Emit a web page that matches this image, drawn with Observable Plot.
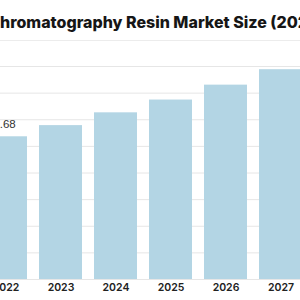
<!DOCTYPE html>
<html>
<head>
<meta charset="utf-8">
<script src="https://cdn.jsdelivr.net/npm/d3@7"></script>
<script src="https://cdn.jsdelivr.net/npm/@observablehq/plot@0.6"></script>
<style>
  html, body { margin: 0; padding: 0; background: #fff; }
  #wrap { position: relative; width: 300px; height: 300px; overflow: hidden; background: #fff; }
  #title {
    position: absolute; top: 14px; white-space: nowrap;
    font-family: Inter, "Open Sans", sans-serif; font-weight: 800; font-size: 16px;
    line-height: 16px; color: #161616;
  }
  #rule { position: absolute; left: 0; top: 40px; width: 300px; height: 1px; background: #ececec; }
  #chart { position: absolute; left: 0; top: 42px; }
  #chart svg { display: block; }
</style>
</head>
<body>
<div id="wrap">
  <div id="title">Chromatography Resin Market Size (2022 to 2032)</div>
  <div id="rule"></div>
  <div id="chart"></div>
</div>
<script>
// Market size by year, USD billion
const years = ["2022", "2023", "2024", "2025", "2026", "2027"];
const marketSize = [2.68, 2.89, 3.13, 3.37, 3.65, 3.94];
const gridTicks = [0, 0.5, 1, 1.5, 2, 2.5, 3, 3.5, 4];
const labelledYears = ["2022"];

const rows = years.map((year, i) => ({year, value: marketSize[i]}));

// Shift the title so the first letter sits just left of the frame
const title = document.getElementById("title");
const ctx = document.createElement("canvas").getContext("2d");
ctx.font = "800 16px Inter";
title.style.left = (-ctx.measureText("C").width) + "px";

const chart = Plot.plot({
  width: 300,
  height: 258,
  marginLeft: 0,
  marginRight: 0,
  marginTop: 24,
  marginBottom: 21,
  style: {background: "transparent", overflow: "hidden"},
  x: {domain: years, range: [-22, 308], paddingInner: 0.218, paddingOuter: 0.109},
  y: {domain: [0, 4]},
  marks: [
    Plot.gridY(gridTicks, {stroke: "#e6e6e6", strokeOpacity: 1}),
    Plot.barY(rows, {x: "year", y: "value", fill: "#b3d5e4"}),
    Plot.text(rows.filter(d => labelledYears.includes(d.year)), {
      x: "year", y: "value", text: d => d.value.toFixed(2),
      dx: -1.5, dy: -9, lineAnchor: "bottom", fontSize: 11.5, fill: "#333",
      fontFamily: "Liberation Sans, Arial, sans-serif"
    }),
    Plot.axisX({tickSize: 0, tickPadding: 4, fontSize: 10.5, fontWeight: 600,
      fill: "#222", fontFamily: "Inter, sans-serif", label: null}),
    Plot.axisY({ticks: [], label: null, tickSize: 0})
  ]
});
document.getElementById("chart").appendChild(chart);
</script>
</body>
</html>
